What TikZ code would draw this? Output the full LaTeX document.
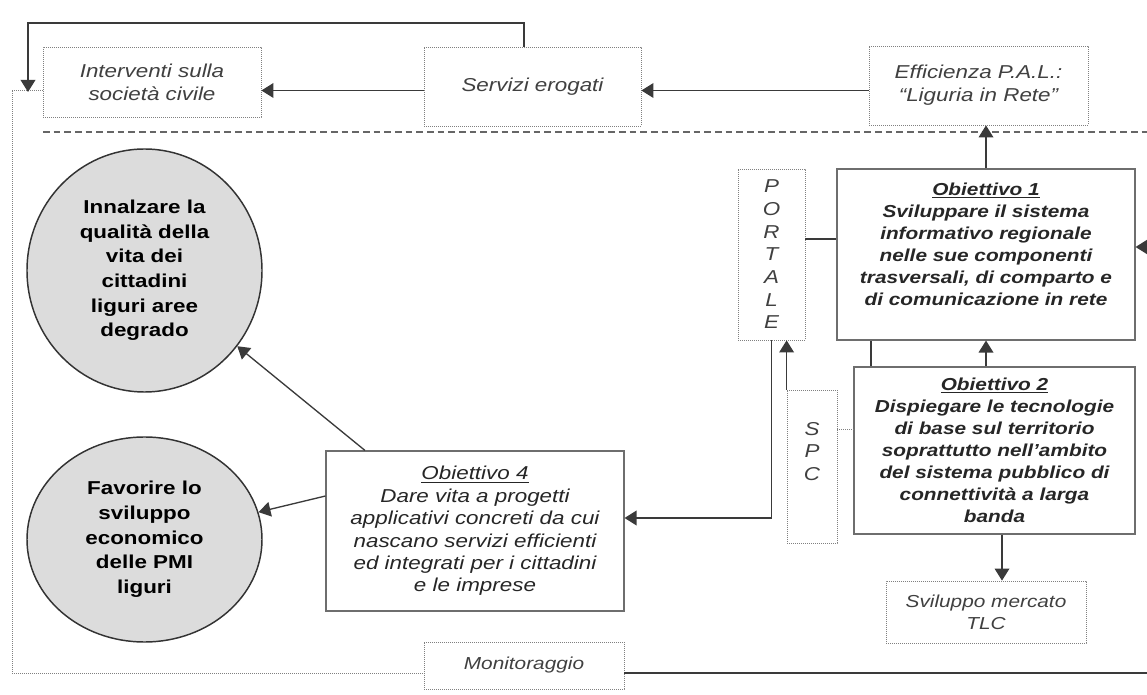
\documentclass[tikz,border=0pt]{standalone}
\usepackage{fontspec}
\setmainfont[FakeStretch=1.2]{Liberation Sans}
\usetikzlibrary{arrows.meta,shapes.geometric}

\definecolor{linegrey}{HTML}{3A3A3A}
\definecolor{boxgrey}{HTML}{808080}
\definecolor{objgrey}{HTML}{6E6E6E}
\definecolor{textgrey}{HTML}{404040}
\definecolor{goalfill}{HTML}{DCDCDC}

\begin{document}
\begin{tikzpicture}[x=0.75pt,y=-0.75pt,>={Triangle[length=9pt,width=11pt]},
    link/.style={->,draw=linegrey,line width=1pt},
    plain link/.style={draw=linegrey,line width=0.8pt},
    dot link/.style={draw=boxgrey,line width=0.6pt,dash pattern=on 0.6pt off 0.9pt},
    frame/.style={draw=boxgrey,line width=0.6pt,dash pattern=on 0.6pt off 0.9pt},
    sep line/.style={draw=black!60,line width=1.1pt,dash pattern=on 5pt off 3pt},
    dot box/.style={draw=boxgrey,line width=0.6pt,dash pattern=on 0.6pt off 0.9pt,inner sep=0pt,align=center,text=textgrey,font=\itshape\fontsize{14}{17.25}\selectfont},
    obj box/.style={draw=objgrey,line width=0.8pt,inner sep=0pt,align=center,text=black!85,font=\bfseries\itshape\fontsize{13}{16.5}\selectfont},
    goal/.style={ellipse,draw=black!80,line width=1.1pt,fill=goalfill,inner sep=0pt,align=center,font=\bfseries\fontsize{14}{18.5}\selectfont}]
\useasboundingbox (0,0) rectangle (1147,695);

% upper row
\node[dot box,minimum width=163.5pt,minimum height=52.5pt] (interv) at (152,82) {Interventi sulla\\società civile};
\node[dot box,minimum width=162.75pt,minimum height=59.25pt] (serv) at (532.5,86.5) {Servizi erogati};
\node[dot box,minimum width=164.25pt,minimum height=59.25pt] (effic) at (978.5,85.5) {Efficienza P.A.L.:\\“Liguria in Rete”};

% objectives
\node[obj box,minimum width=223.5pt,minimum height=128.25pt,text depth=16pt] (obj1) at (986,254.5) {\underline{Obiettivo 1}\\Sviluppare il sistema\\informativo regionale\\nelle sue componenti\\trasversali, di comparto e\\di comunicazione in rete};
\node[dot box,minimum width=50.25pt,minimum height=128.25pt,font=\itshape\fontsize{14}{17}\selectfont] (portale) at (771.5,254.5) {P\\O\\R\\T\\A\\L\\E};
\node[obj box,minimum width=210.75pt,minimum height=125.25pt] (obj2) at (994.5,450.5) {\underline{Obiettivo 2}\\Dispiegare le tecnologie\\di base sul territorio\\soprattutto nell’ambito\\del sistema pubblico di\\connettività a larga\\banda};
\node[dot box,minimum width=37.5pt,minimum height=114.75pt,font=\itshape\fontsize{14}{17}\selectfont,text depth=23pt] (spc) at (812,466.5) {S\\P\\C};
\node[dot box,minimum width=150pt,minimum height=46.5pt,font=\itshape\fontsize{13}{16.5}\selectfont] (tlc) at (986,612) {Sviluppo mercato\\TLC};
\node[obj box,minimum width=223.5pt,minimum height=120pt,font=\itshape\fontsize{14}{16.8}\selectfont] (obj4) at (475,531) {\underline{Obiettivo 4}\\Dare vita a progetti\\applicativi concreti da cui\\nascano servizi efficienti\\ed integrati per i cittadini\\e le imprese};
\node[dot box,minimum width=150pt,minimum height=35.25pt,font=\itshape\fontsize{13}{16}\selectfont] (monit) at (524,665.5) {Monitoraggio};

% goals
\node[goal,minimum width=176.25pt,minimum height=182.25pt] (qualita) at (144.5,270.5) {Innalzare la\\qualità della\\vita dei\\cittadini\\liguri aree\\degrado};
\node[goal,minimum width=176.25pt,minimum height=153.75pt] (sviluppo) at (144.5,539.5) {Favorire lo\\sviluppo\\economico\\delle PMI\\liguri};

\coordinate (toprow) at (0,23);
\coordinate (looptip) at (28,92);
\coordinate (arrowrow) at (0,90.5);
\coordinate (framenw) at (12,90);
\coordinate (framesw) at (12,673);
\coordinate (dashstart) at (43,132);
\coordinate (dashend) at (1147,132);
\coordinate (portrow) at (0,239);
\coordinate (feedrow) at (0,247);
\coordinate (rightedge) at (1160,673);
\coordinate (stub) at (871,0);
\coordinate (obj4row) at (0,518);
\coordinate (spcrow) at (0,429);
\coordinate (tlccol) at (1002,0);

\draw[sep line] (dashstart) -- (dashend);
\draw[frame] (interv.west |- framenw) -- (framenw) -- (framesw) -- (monit.west |- framesw);

\draw[link] ([xshift=-6.4pt]serv.north) |- (looptip |- toprow) -- (looptip);
\draw[link] (serv.west |- arrowrow) -- (interv.east |- arrowrow);
\draw[link] (effic.west |- arrowrow) -- (serv.east |- arrowrow);
\draw[link] (obj1.north) -- (obj1.north |- effic.south);
\draw[plain link] (portale.east |- portrow) -- (obj1.west |- portrow);
\draw[link] (obj1.south |- obj2.north) -- (obj1.south);
\draw[plain link] (stub |- obj2.north) -- (stub |- obj1.south);
\draw[link] (spc.north west) -- (spc.north west |- portale.south);
\draw[dot link] (spc.east |- spcrow) -- (obj2.west |- spcrow);
\draw[link] (portale.south) |- (obj4.east |- obj4row);
\draw[link] (tlccol |- obj2.south) -- (tlccol |- tlc.north);
\draw[link] ([xshift=-82.5pt]obj4.north) -- (qualita);
\draw[link] ([yshift=26.25pt]obj4.west) -- (sviluppo);
\draw[link] (monit.east |- framesw) -- (rightedge) |- (obj1.east |- feedrow);
\end{tikzpicture}
\end{document}
